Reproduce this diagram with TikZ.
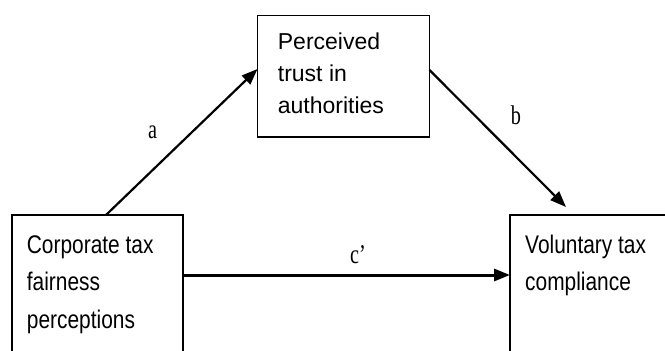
\documentclass[tikz,border=0pt]{standalone}
\usepackage{fontspec}
\setmainfont{Liberation Serif}
\newfontfamily\boxfont{Liberation Sans}
\newfontfamily\condfont[FakeStretch=0.82]{Liberation Sans}
\newfontfamily\labfont[FakeStretch=0.75]{Liberation Serif}
\usetikzlibrary{arrows.meta}
\begin{document}
\begin{tikzpicture}[x=1pt,y=1pt,
  boxshape/.style={draw=black, line width=1.8pt, inner sep=0pt, outer sep=0pt, anchor=north west},
  toptext/.style={anchor=base west, align=left, inner sep=0pt, font=\boxfont\fontsize{23}{32}\selectfont},
  sidetext/.style={anchor=base west, align=left, inner sep=0pt, font=\condfont\fontsize{25.5}{37.5}\selectfont},
  lab/.style={inner sep=0pt, font=\labfont\fontsize{27}{29}\selectfont},
  arr/.style={line width=2.2pt, -{Triangle[length=16pt,width=12pt]}}
]
\useasboundingbox (0,-351) rectangle (665,0);
\clip (0,-351) rectangle (665,0);
\fill[white] (0,-351) rectangle (665,0);
% boxes
\node[boxshape, minimum width=172pt, minimum height=121.5pt] (tbox) at (257.5,-15.5) {};
\node[boxshape, minimum width=171pt, minimum height=150pt] (lbox) at (12,-215) {};
\node[boxshape, minimum width=175pt, minimum height=150pt] (rbox) at (510,-215) {};
% texts (anchored at the baseline of the last line)
\node[toptext] (ttext) at (277.7,-113) {Perceived\\trust in\\authorities};
\node[sidetext] (ltext) at (26.7,-328.3) {Corporate tax\\fairness\\perceptions};
\node[sidetext] (rtext) at (525,-290.8) {Voluntary tax\\compliance};
% connectors
\draw[arr] ([xshift=94pt]lbox.north west) -- ([yshift=-53.5pt]tbox.north west);
\draw[arr] ([yshift=-54.5pt]tbox.north east) -- ([xshift=56pt,yshift=8pt]rbox.north west);
\draw[arr, line width=3pt] ([yshift=-60pt]lbox.north east) -- ([yshift=-60pt]rbox.north west);
% labels
\node[lab] (la) at (152.5,-132) {a};
\node[lab] (lb) at (516,-115) {b};
\node[lab] (lc) at (358,-255) {c’};
\end{tikzpicture}
\end{document}
